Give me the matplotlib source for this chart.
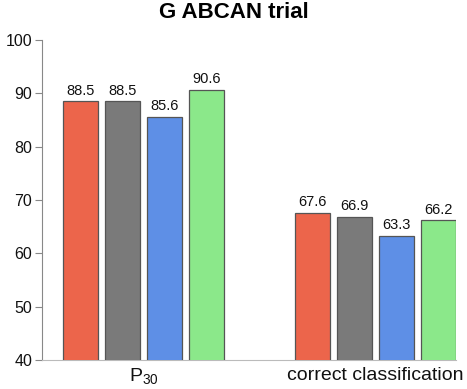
import matplotlib
matplotlib.use("Agg")
import matplotlib.pyplot as plt
import numpy as np

plt.rcParams['font.family'] = ['Liberation Sans', 'DejaVu Sans']
plt.rcParams['mathtext.fontset'] = 'custom'
plt.rcParams['mathtext.rm'] = 'Liberation Sans'

categories = [r"P$_{\mathregular{30}}$", "correct classification"]
series_values = [
    [88.5, 67.6],
    [88.5, 66.9],
    [85.6, 63.3],
    [90.6, 66.2],
]
series_colors = ["#EC654B", "#7A7A7A", "#5E8FE6", "#8BE88A"]
y_ticks = [40, 50, 60, 70, 80, 90, 100]

fig = plt.figure(figsize=(4.67, 3.89), dpi=100)
ax = fig.add_axes([42 / 467, 1 - 360 / 389, (456 - 42) / 467, 320 / 389])

group_centers = np.array([0.0, 5.52])
offsets = [-1.5, -0.5, 0.5, 1.5]
width = 0.83

for vals, col, off in zip(series_values, series_colors, offsets):
    xs = group_centers + off
    ax.bar(xs, vals, width=width, color=col, edgecolor="#555555",
           linewidth=0.9, zorder=3)
    for x, v in zip(xs, vals):
        ax.text(x, v + 0.7, f"{v:.1f}", ha="center", va="bottom",
                fontsize=10.5, color="#111111")

ax.set_ylim(40, 100)
ax.set_xlim(group_centers[0] - 2.417, group_centers[0] + 7.44)
ax.set_yticks(y_ticks)
ax.tick_params(axis="y", labelsize=11.5, length=5, width=0.8, color="#888888",
               pad=2, labelcolor="#111111")
ax.set_xticks(group_centers)
ax.set_xticklabels(categories, fontsize=14)
ax.tick_params(axis="x", length=0, pad=5, labelcolor="#111111")

for s in ["top", "right"]:
    ax.spines[s].set_visible(False)
ax.spines["left"].set_color("#888888")
ax.spines["left"].set_linewidth(0.8)
ax.spines["bottom"].set_color("#BBBBBB")
ax.spines["bottom"].set_linewidth(0.8)

fig.text(0.5, 1 - 13 / 389, "G ABCAN trial", ha="center", va="center",
         fontsize=16, fontweight="bold")

fig.savefig("out.png", dpi=100)
